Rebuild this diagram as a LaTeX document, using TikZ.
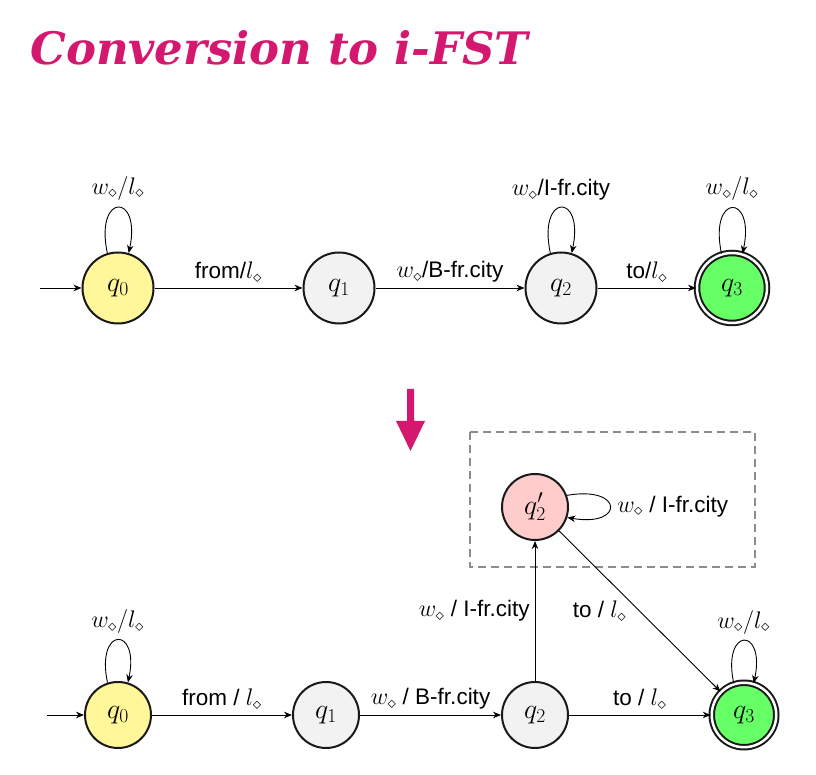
\RequirePackage{fix-cm}
\documentclass[tikz,border=0pt]{standalone}
\usepackage{fontspec}
\usepackage{graphicx}
\setmainfont{Liberation Sans}
\newfontfamily\titlefont{DejaVu Serif}
\usetikzlibrary{arrows.meta}
\definecolor{titlemag}{HTML}{D4176F}
\definecolor{styel}{HTML}{FFF799}
\definecolor{stgray}{HTML}{F2F2F2}
\definecolor{stgreen}{HTML}{66FF66}
\definecolor{stpink}{HTML}{FFCCCC}
\definecolor{boxgray}{HTML}{8C8C8C}
\newcommand{\mth}[1]{{\fontsize{24}{28}\selectfont$#1$}}
\tikzset{
  st/.style={circle, draw=black!90, line width=2pt, inner sep=0pt, font=\fontsize{28}{32}\selectfont},
  stbig/.style={minimum size=71pt},
  stsmall/.style={minimum size=66pt},
  stacc/.style={double=white, double distance=2.5pt},
  tr/.style={-{Stealth[length=8pt,width=6.5pt,inset=2.5pt]}, line width=0.9pt},
  lbl/.style={font=\fontsize{22.5}{26}\selectfont, inner sep=1pt},
}
\begin{document}
\begin{tikzpicture}[x=1pt,y=1pt]
\useasboundingbox (0,0) rectangle (816,775);
% title
\node[anchor=base west, inner sep=0pt, text=titlemag] (title) at (30,710)
  {\resizebox{498pt}{34pt}{\titlefont\bfseries\itshape Conversion to i-FST}};
% top automaton
\node[st,stbig,fill=styel] (a0) at (118,487) {$q_0$};
\node[st,stbig,fill=stgray] (a1) at (339,487) {$q_1$};
\node[st,stbig,fill=stgray] (a2) at (561,487) {$q_2$};
\node[st,stacc,minimum size=70pt,fill=stgreen] (a3) at (732,487) {$q_3$};
\coordinate (a0in) at (40,487);
\draw[tr] (a0in) -- (a0);
\draw[tr] (a0) -- node[lbl,above=4pt]{from/\mth{l_\diamond}} (a1);
\draw[tr] (a1) -- node[lbl,above=4pt]{\mth{w_\diamond}/B-fr.city} (a2);
\draw[tr] (a2) -- node[lbl,above=4pt]{to/\mth{l_\diamond}} (a3);
\draw[tr] (a0.107) to[out=102,in=78,distance=62pt] node[lbl,above=6pt]{\mth{w_\diamond/l_\diamond}} (a0.73);
\draw[tr] (a2.107) to[out=102,in=78,distance=62pt] node[lbl,above=6pt]{\mth{w_\diamond}/I-fr.city} (a2.73);
\draw[tr] (a3.107) to[out=102,in=78,distance=62pt] node[lbl,above=6pt]{\mth{w_\diamond/l_\diamond}} (a3.73);
% magenta arrow
\fill[titlemag] (407,386) -- (414,386) -- (414,354) -- (425,354) -- (410.5,324) -- (396,354) -- (407,354) -- cycle;
% dashed box
\draw[boxgray, line width=2.5pt, dash pattern=on 8pt off 5pt] (470,343) rectangle (755,208);
% bottom automaton
\node[st,stsmall,fill=styel] (b0) at (118,60) {$q_0$};
\node[st,stsmall,fill=stgray] (b1) at (326,60) {$q_1$};
\node[st,stsmall,fill=stgray] (b2) at (535,60) {$q_2$};
\node[st,stacc,minimum size=64.5pt,fill=stgreen] (b3) at (744,60) {$q_3$};
\node[st,stsmall,fill=stpink] (b2p) at (535,268) {$q_2'$};
\coordinate (b0in) at (47,60);
\draw[tr] (b0in) -- (b0);
\draw[tr] (b0) -- node[lbl,above=4pt]{from / \mth{l_\diamond}} (b1);
\draw[tr] (b1) -- node[lbl,above=4pt]{\mth{w_\diamond} / B-fr.city} (b2);
\draw[tr] (b2) -- node[lbl,above=4pt]{to / \mth{l_\diamond}} (b3);
\draw[tr] (b2) -- node[lbl,left=4pt]{\mth{w_\diamond} / I-fr.city} (b2p);
\draw[tr] (b2p) -- node[lbl,left=12pt]{to / \mth{l_\diamond}} (b3);
\draw[tr] (b0.108) to[out=102,in=78,distance=58pt] node[lbl,above=5pt]{\mth{w_\diamond/l_\diamond}} (b0.73);
\draw[tr] (b3.108) to[out=102,in=78,distance=58pt] node[lbl,above=5pt]{\mth{w_\diamond/l_\diamond}} (b3.73);
\draw[tr] (b2p.20) to[out=10,in=-10,distance=58pt] node[lbl,right=6pt]{\mth{w_\diamond} / I-fr.city} (b2p.-18);
\end{tikzpicture}
\end{document}
